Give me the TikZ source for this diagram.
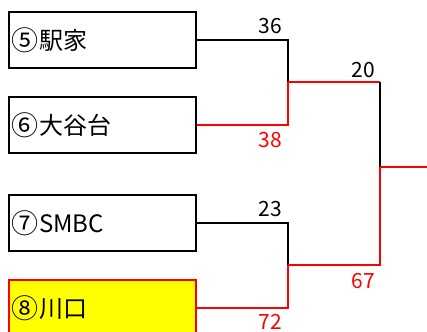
\documentclass[tikz,border=0pt]{standalone}
\usepackage{fontspec}
\setmainfont{Noto Sans CJK JP}
\definecolor{wred}{RGB}{255,0,0}
\definecolor{wyel}{RGB}{255,255,0}
\newcommand{\circnum}[1]{{\fontsize{27}{27}\selectfont\raisebox{-0.6pt}{#1}}\hspace{0.5pt}}
\begin{document}
\begin{tikzpicture}[x=1pt,y=-1pt,
  team/.style={draw=black,line width=2pt,rectangle,minimum height=56pt,
    inner xsep=3pt,text width=181pt,align=left,font=\fontsize{24}{26}\selectfont},
  win/.style={team,draw=wred,fill=wyel},
  ln/.style={line width=1.6pt,black},
  rln/.style={line width=1.6pt,wred},
  score/.style={font=\fontsize{21}{24}\selectfont,inner sep=0pt},
  rscore/.style={score,text=wred}]
\useasboundingbox (0,0) rectangle (427,331);
\node[team] (b1) at (102,40) {\circnum{⑤}駅家};
\node[team] (b2) at (102,125) {\circnum{⑥}大谷台};
\node[team] (b3) at (102,223) {\circnum{⑦}SMBC};
\node[win] (b4) at (102,308) {\circnum{⑧}川口};
\coordinate (a1) at (288,40);
\coordinate (a2) at (288,125);
\coordinate (j1) at (288,82);
\coordinate (a3) at (288,223);
\coordinate (a4) at (288,308);
\coordinate (j2) at (288,265);
\coordinate (f1) at (380,82);
\coordinate (f2) at (380,265);
\coordinate (fm) at (380,167);
\coordinate (out) at (428,167);
\draw[ln] (b1.east) -- (a1) -- (j1);
\draw[rln] (b2.east) -- (a2) -- (j1);
\draw[ln] (b3.east) -- (a3) -- (j2);
\draw[rln] (b4.east) -- (a4) -- (j2);
\draw[rln] (j1) -- (f1);
\draw[ln] (f1) -- (fm);
\draw[rln] (j2) -- (f2) -- (fm);
\draw[rln] (fm) -- (out);
\node[score] (s36) at (270,26) {36};
\node[rscore] (s38) at (270,140) {38};
\node[score] (s23) at (270,209) {23};
\node[rscore] (s72) at (270,322) {72};
\node[score] (s20) at (363,70) {20};
\node[rscore] (s67) at (363,281) {67};
\end{tikzpicture}
\end{document}
